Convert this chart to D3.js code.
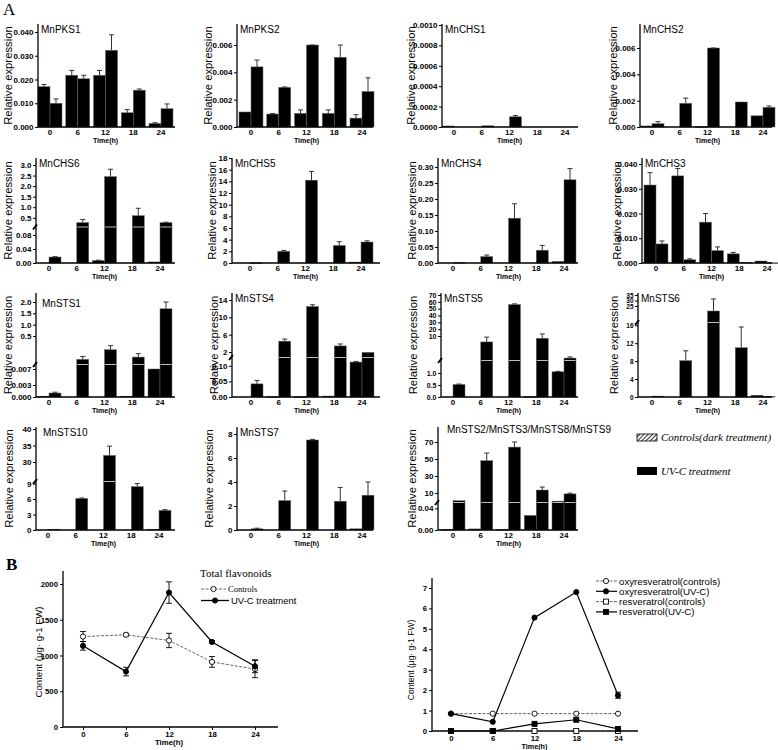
<!DOCTYPE html>
<html><head><meta charset="utf-8">
<script src="https://cdn.jsdelivr.net/npm/d3@7"></script>
<style>body{margin:0;background:#fff}svg{display:block}</style>
</head><body>
<svg id="c" width="778" height="750"></svg>
<script>
// ---------------- DATA ----------------
const times = [0, 6, 12, 18, 24];

const MnPKS1_control = [0.0170, 0.0218, 0.0218, 0.0060, 0.0015];
const MnPKS1_controlSD = [0.0009, 0.0020, 0.0020, 0.0013, 0.0003];
const MnPKS1_uvc = [0.0100, 0.0203, 0.0323, 0.0155, 0.0077];
const MnPKS1_uvcSD = [0.0018, 0.0015, 0.0065, 0.0005, 0.0020];
const MnPKS1_ticks = [0, 0.01, 0.02, 0.03, 0.04];
const MnPKS1_tickLabels = ["0.000", "0.010", "0.020", "0.030", "0.040"];

const MnPKS2_control = [0.0011, 0.00095, 0.0010, 0.0010, 0.00065];
const MnPKS2_controlSD = [0, 0.00003, 0.00025, 0.00025, 0.00025];
const MnPKS2_uvc = [0.0044, 0.0029, 0.0061, 0.0051, 0.0026];
const MnPKS2_uvcSD = [0.0005, 0.00003, 0.0005, 0.0010, 0.0010];
const MnPKS2_ticks = [0, 0.002, 0.004, 0.006];
const MnPKS2_tickLabels = ["0.000", "0.002", "0.004", "0.006"];

const MnCHS1_control = [0.00001, 0, 0, 0, 0];
const MnCHS1_controlSD = [0, 0, 0, 0, 0];
const MnCHS1_uvc = [0, 0.000012, 0.0001, 0, 0];
const MnCHS1_uvcSD = [0, 0, 0.000012, 0, 0];
const MnCHS1_ticks = [0, 0.0002, 0.0004, 0.0006, 0.0008, 0.0010];
const MnCHS1_tickLabels = ["0.0000", "0.0002", "0.0004", "0.0006", "0.0008", "0.0010"];

const MnCHS2_control = [0.00008, 0, 0.00003, 0, 0.00085];
const MnCHS2_controlSD = [0, 0, 0, 0, 0];
const MnCHS2_uvc = [0.00025, 0.0018, 0.0064, 0.0019, 0.0015];
const MnCHS2_uvcSD = [0.00015, 0.0004, 0.0004, 0, 0.0001];
const MnCHS2_ticks = [0, 0.002, 0.004, 0.006];
const MnCHS2_tickLabels = ["0.000", "0.002", "0.004", "0.006"];

const MnCHS6_control = [0, 0, 0.007, 0, 0.003];
const MnCHS6_controlSD = [0, 0, 0.001, 0, 0];
const MnCHS6_uvc = [0.017, 0.27, 2.45, 0.6, 0.27];
const MnCHS6_uvcSD = [0.001, 0.15, 0.35, 0.35, 0.02];
const MnCHS6_ticks = [0, 0.04, 0.08, 0.5, 1, 1.5, 2, 2.5, 3];
const MnCHS6_tickLabels = ["0.00", "0.04", "0.08", "0.5", "1.0", "1.5", "2.0", "2.5", "3.0"];

const MnCHS5_control = [0, 0, 0, 0, 0.15];
const MnCHS5_controlSD = [0, 0, 0, 0, 0];
const MnCHS5_uvc = [0.05, 2.0, 14.2, 3.0, 3.6];
const MnCHS5_uvcSD = [0, 0.15, 1.5, 0.65, 0.2];
const MnCHS5_ticks = [0, 2, 4, 6, 8, 10, 12, 14, 16, 18];
const MnCHS5_tickLabels = ["0", "2", "4", "6", "8", "10", "12", "14", "16", "18"];

const MnCHS4_control = [0, 0, 0, 0, 0.005];
const MnCHS4_controlSD = [0, 0, 0, 0, 0];
const MnCHS4_uvc = [0.002, 0.02, 0.14, 0.04, 0.26];
const MnCHS4_uvcSD = [0, 0.005, 0.045, 0.015, 0.035];
const MnCHS4_ticks = [0, 0.05, 0.10, 0.15, 0.20, 0.25, 0.30];
const MnCHS4_tickLabels = ["0.00", "0.05", "0.10", "0.15", "0.20", "0.25", "0.30"];

const MnCHS3_control = [0.0315, 0.0352, 0.0165, 0.0037, 0.0008];
const MnCHS3_controlSD = [0.005, 0.003, 0.0035, 0.0006, 0];
const MnCHS3_uvc = [0.0077, 0.0013, 0.005, 0.0003, 0.0001];
const MnCHS3_uvcSD = [0.0012, 0.0004, 0.0015, 0, 0];
const MnCHS3_ticks = [0, 0.01, 0.02, 0.03, 0.04];
const MnCHS3_tickLabels = ["0.000", "0.010", "0.020", "0.030", "0.040"];

const MnSTS1_control = [0.0002, 0, 0, 0.0002, 0.007];
const MnSTS1_controlSD = [0, 0, 0, 0, 0];
const MnSTS1_uvc = [0.001, 0.09, 0.26, 0.13, 1.7];
const MnSTS1_uvcSD = [0.0002, 0.05, 0.07, 0.06, 0.3];
const MnSTS1_ticks = [0, 0.003, 0.007, 0.5, 1.0, 1.5, 2.0];
const MnSTS1_tickLabels = ["0.000", "0.003", "0.007", "0.5", "1.0", "1.5", "2.0"];

const MnSTS4_control = [0, 0.001, 0.001, 0.003, 0.112];
const MnSTS4_controlSD = [0, 0, 0, 0, 0.002];
const MnSTS4_uvc = [0.042, 4.5, 12.5, 3.4, 1.85];
const MnSTS4_uvcSD = [0.011, 0.5, 0.4, 0.45, 0];
const MnSTS4_ticks = [0, 0.05, 0.10, 2, 6, 10, 14];
const MnSTS4_tickLabels = ["0.00", "0.05", "0.10", "2", "6", "10", "14"];

const MnSTS5_control = [0, 0, 0, 0.02, 1.05];
const MnSTS5_controlSD = [0, 0, 0, 0, 0.02];
const MnSTS5_uvc = [0.52, 7.9, 56, 9.2, 2.2];
const MnSTS5_uvcSD = [0.02, 1.7, 1, 3.8, 0.4];
const MnSTS5_ticks = [0, 0.5, 1.0, 10, 20, 30, 40, 50, 60, 70];
const MnSTS5_tickLabels = ["0.0", "0.5", "1.0", "10", "20", "30", "40", "50", "60", "70"];

const MnSTS6_control = [0, 0, 0, 0, 0.4];
const MnSTS6_controlSD = [0, 0, 0, 0, 0];
const MnSTS6_uvc = [0.2, 8.1, 22.5, 11, 0.15];
const MnSTS6_uvcSD = [0, 2.2, 8.9, 4.6, 0];
const MnSTS6_ticks = [0, 4, 8, 12, 16, 25, 30, 35];
const MnSTS6_tickLabels = ["0", "4", "8", "12", "16", "25", "30", "35"];

const MnSTS10_control = [0, 0, 0, 0, 0.15];
const MnSTS10_controlSD = [0, 0, 0, 0, 0];
const MnSTS10_uvc = [0.15, 6.1, 32, 8.4, 3.8];
const MnSTS10_uvcSD = [0, 0.1, 2.8, 0.6, 0.15];
const MnSTS10_ticks = [0, 3, 6, 9, 30, 35, 40];
const MnSTS10_tickLabels = ["0", "3", "6", "9", "30", "35", "40"];

const MnSTS7_control = [0, 0, 0, 0, 0.1];
const MnSTS7_controlSD = [0, 0, 0, 0, 0];
const MnSTS7_uvc = [0.1, 2.45, 7.5, 2.4, 2.9];
const MnSTS7_uvcSD = [0.05, 0.8, 0.05, 1.15, 1.1];
const MnSTS7_ticks = [0, 2, 4, 6, 8];
const MnSTS7_tickLabels = ["0", "2", "4", "6", "8"];

const MnSTS2389_control = [0.001, 0.002, 0.001, 0.027, 1];
const MnSTS2389_controlSD = [0, 0, 0, 0, 0];
const MnSTS2389_uvc = [1.5, 48, 64, 13.5, 9];
const MnSTS2389_uvcSD = [0, 9, 12, 3.5, 0.8];
const MnSTS2389_ticks = [0, 0.04, 10, 30, 50, 70];
const MnSTS2389_tickLabels = ["0.00", "0.04", "10", "30", "50", "70"];

// Panel B
const flavonoids_control = [1265, 1290, 1210, 910, 810];
const flavonoids_controlSD = [70, 20, 100, 75, 120];
const flavonoids_uvc = [1135, 775, 1880, 1190, 850];
const flavonoids_uvcSD = [60, 60, 150, 20, 90];
const flavonoids_ticks = [0, 500, 1000, 1500, 2000];

const oxyresveratrol_control = [0.85, 0.85, 0.85, 0.85, 0.85];
const oxyresveratrol_uvc = [0.85, 0.45, 5.55, 6.8, 1.75];
const oxyresveratrol_uvcSD = [0, 0, 0, 0, 0.15];
const resveratrol_control = [0, 0, 0, 0, 0];
const resveratrol_uvc = [0, 0, 0.35, 0.55, 0.1];
const stilbene_ticks = [0, 1, 2, 3, 4, 5, 6, 7];

// ---------------- LAYOUT ----------------
const svg = d3.select("#c");
const FONT = "'Liberation Sans', Arial, Helvetica, sans-serif";
const SERIF = "'Liberation Serif', 'Times New Roman', serif";
const rowBottom = [127, 263, 397, 530];
const rowTop = [24, 158, 293, 427];

const defs = svg.append("defs");
const pat = defs.append("pattern").attr("id", "hatch").attr("patternUnits", "userSpaceOnUse")
  .attr("width", 3).attr("height", 3).attr("patternTransform", "rotate(45)");
pat.append("rect").attr("width", 3).attr("height", 3).attr("fill", "#fff");
pat.append("line").attr("x1", 0).attr("y1", 0).attr("x2", 0).attr("y2", 3).attr("stroke", "#000").attr("stroke-width", 1.6);

const panels = [
  {name: "MnPKS1", c: MnPKS1_control, cs: MnPKS1_controlSD, u: MnPKS1_uvc, us: MnPKS1_uvcSD, ticks: MnPKS1_ticks, labels: MnPKS1_tickLabels,
   dom: [0, 0.04], off: [0, 95], row: 0, x0: 38, gx: 50, x1: 175, ylx: -30},
  {name: "MnPKS2", c: MnPKS2_control, cs: MnPKS2_controlSD, u: MnPKS2_uvc, us: MnPKS2_uvcSD, ticks: MnPKS2_ticks, labels: MnPKS2_tickLabels,
   dom: [0, 0.006], off: [0, 82], row: 0, x0: 237, gx: 251, x1: 373, ylx: -29},
  {name: "MnCHS1", c: MnCHS1_control, cs: MnCHS1_controlSD, u: MnCHS1_uvc, us: MnCHS1_uvcSD, ticks: MnCHS1_ticks, labels: MnCHS1_tickLabels,
   dom: [0, 0.001], off: [0, 102], row: 0, x0: 442, gx: 454, x1: 578, ylx: -31},
  {name: "MnCHS2", c: MnCHS2_control, cs: MnCHS2_controlSD, u: MnCHS2_uvc, us: MnCHS2_uvcSD, ticks: MnCHS2_ticks, labels: MnCHS2_tickLabels,
   dom: [0, 0.006], off: [0, 79], row: 0, x0: 640, gx: 652, x1: 772, ylx: -27},

  {name: "MnCHS6", c: MnCHS6_control, cs: MnCHS6_controlSD, u: MnCHS6_uvc, us: MnCHS6_uvcSD, ticks: MnCHS6_ticks, labels: MnCHS6_tickLabels,
   dom: [0, 0.1, 0.11, 3.0], off: [0, 35, 37, 98], row: 1, x0: 36, gx: 49, x1: 175, ylx: -28},
  {name: "MnCHS5", c: MnCHS5_control, cs: MnCHS5_controlSD, u: MnCHS5_uvc, us: MnCHS5_uvcSD, ticks: MnCHS5_ticks, labels: MnCHS5_tickLabels,
   dom: [0, 18], off: [0, 105], row: 1, x0: 232, gx: 250, x1: 380, ylx: -20},
  {name: "MnCHS4", c: MnCHS4_control, cs: MnCHS4_controlSD, u: MnCHS4_uvc, us: MnCHS4_uvcSD, ticks: MnCHS4_ticks, labels: MnCHS4_tickLabels,
   dom: [0, 0.30], off: [0, 96], row: 1, x0: 438, gx: 453, x1: 578, ylx: -26},
  {name: "MnCHS3", c: MnCHS3_control, cs: MnCHS3_controlSD, u: MnCHS3_uvc, us: MnCHS3_uvcSD, ticks: MnCHS3_ticks, labels: MnCHS3_tickLabels,
   dom: [0, 0.04], off: [0, 99], row: 1, x0: 642, gx: 656, x1: 772, ylx: -25},

  {name: "MnSTS1", c: MnSTS1_control, cs: MnSTS1_controlSD, u: MnSTS1_uvc, us: MnSTS1_uvcSD, ticks: MnSTS1_ticks, labels: MnSTS1_tickLabels,
   dom: [0, 0.008, 0.0081, 0.5, 2.0], off: [0, 32, 33, 61, 95], row: 2, x0: 36, gx: 49, x1: 175, ylx: -28, tdx: 6, tdy: 14},
  {name: "MnSTS4", c: MnSTS4_control, cs: MnSTS4_controlSD, u: MnSTS4_uvc, us: MnSTS4_uvcSD, ticks: MnSTS4_ticks, labels: MnSTS4_tickLabels,
   dom: [0, 0.125, 0.126, 2, 14], off: [0, 39, 40, 45, 97], row: 2, x0: 232, gx: 251, x1: 380, ylx: -18},
  {name: "MnSTS5", c: MnSTS5_control, cs: MnSTS5_controlSD, u: MnSTS5_uvc, us: MnSTS5_uvcSD, ticks: MnSTS5_ticks, labels: MnSTS5_tickLabels,
   dom: [0, 1.5, 1.51, 10, 70], off: [0, 36, 37, 61, 102], row: 2, x0: 441, gx: 453, x1: 578, ylx: -28, tfs: 7},
  {name: "MnSTS6", c: MnSTS6_control, cs: MnSTS6_controlSD, u: MnSTS6_uvc, us: MnSTS6_uvcSD, ticks: MnSTS6_ticks, labels: MnSTS6_tickLabels,
   dom: [0, 16.5, 17, 25, 35], off: [0, 74, 75, 91, 102], row: 2, x0: 638, gx: 652, x1: 772, ylx: -24, tfs: 6.5},

  {name: "MnSTS10", c: MnSTS10_control, cs: MnSTS10_controlSD, u: MnSTS10_uvc, us: MnSTS10_uvcSD, ticks: MnSTS10_ticks, labels: MnSTS10_tickLabels,
   dom: [0, 9.3, 9.4, 30, 40], off: [0, 48, 49, 68, 101], row: 3, x0: 36, gx: 48, x1: 175, ylx: -27, tdx: 7},
  {name: "MnSTS7", c: MnSTS7_control, cs: MnSTS7_controlSD, u: MnSTS7_uvc, us: MnSTS7_uvcSD, ticks: MnSTS7_ticks, labels: MnSTS7_tickLabels,
   dom: [0, 8], off: [0, 96], row: 3, x0: 237, gx: 251, x1: 373, ylx: -28},
  {name: "MnSTS2/MnSTS3/MnSTS8/MnSTS9", c: MnSTS2389_control, cs: MnSTS2389_controlSD, u: MnSTS2389_uvc, us: MnSTS2389_uvcSD, ticks: MnSTS2389_ticks, labels: MnSTS2389_tickLabels,
   dom: [0, 0.05, 0.051, 10, 70], off: [0, 27, 28, 37, 88], row: 3, x0: 438, gx: 453, x1: 578, ylx: -26, tdx: 9, tdy: 6},
];

function barPanel(p) {
  const b = rowBottom[p.row], t = rowTop[p.row];
  const g = svg.append("g");
  const xs = d3.scalePoint().domain(times).range([p.gx, p.gx + 111]);
  const y = d3.scaleLinear().domain(p.dom).range(p.off.map(o => b - o)).clamp(true);
  const bw = 12;
  const broken = p.dom.length > 2;
  const yb = broken ? (y(p.dom[1]) + y(p.dom[2])) / 2 : null;
  const series = [{v: p.c, sd: p.cs, dx: -bw}, {v: p.u, sd: p.us, dx: 0}];
  series.forEach(s => {
    const data = times.map((tm, i) => ({t: tm, v: s.v[i], sd: s.sd[i]}));
    g.selectAll(null).data(data.filter(d => d.v > 0)).join("rect")
      .attr("x", d => xs(d.t) + s.dx).attr("y", d => y(d.v))
      .attr("width", bw).attr("height", d => Math.max(0.8, b - y(d.v)))
      .attr("fill", "#000").attr("stroke", "#6a6a6a").attr("stroke-width", 0.5);
    if (broken) {
      g.selectAll(null).data(data.filter(d => y(d.v) < yb - 1)).join("line")
        .attr("x1", d => xs(d.t) + s.dx + 0.5).attr("x2", d => xs(d.t) + s.dx + bw - 0.5)
        .attr("y1", yb).attr("y2", yb).attr("stroke", "#bdbdbd").attr("stroke-width", 1);
    }
    const e = data.filter(d => d.sd > 0);
    g.selectAll(null).data(e).join("line")
      .attr("x1", d => xs(d.t) + s.dx + bw / 2).attr("x2", d => xs(d.t) + s.dx + bw / 2)
      .attr("y1", d => y(d.v)).attr("y2", d => y(d.v + d.sd))
      .attr("stroke", "#333").attr("stroke-width", 1);
    g.selectAll(null).data(e).join("line")
      .attr("x1", d => xs(d.t) + s.dx + bw / 2 - 2.5).attr("x2", d => xs(d.t) + s.dx + bw / 2 + 2.5)
      .attr("y1", d => y(d.v + d.sd)).attr("y2", d => y(d.v + d.sd))
      .attr("stroke", "#333").attr("stroke-width", 1);
  });
  if (broken) {
    g.append("line").attr("x1", p.x0 - 3).attr("x2", p.x0 + 1).attr("y1", yb + 2.5).attr("y2", yb - 2.5)
      .attr("stroke", "#000").attr("stroke-width", 2);
  }
  const ax = g.append("g").attr("transform", `translate(${p.x0},0)`)
    .call(d3.axisLeft(y).tickValues(p.ticks).tickFormat((d, i) => p.labels[i]).tickSize(3).tickPadding(1.5));
  ax.select(".domain").remove();
  ax.selectAll("text").attr("font-size", p.tfs || 8).attr("font-weight", "bold").attr("font-family", FONT).attr("fill", "#000");
  ax.selectAll("line").attr("stroke", "#000");
  g.append("line").attr("x1", p.x0).attr("x2", p.x0).attr("y1", t).attr("y2", b).attr("stroke", "#000").attr("stroke-width", 1.3);
  g.append("line").attr("x1", p.x0).attr("x2", p.x1).attr("y1", b).attr("y2", b).attr("stroke", "#000").attr("stroke-width", 1.3);
  g.selectAll(null).data(times).join("text")
    .attr("x", d => xs(d)).attr("y", b + 8).attr("text-anchor", "middle")
    .attr("font-size", 8).attr("font-weight", "bold").attr("font-family", FONT).text(d => d);
  g.append("text").attr("x", xs(12)).attr("y", b + 15.5).attr("text-anchor", "middle")
    .attr("font-size", 7).attr("font-weight", "bold").attr("font-family", FONT).text("Time(h)");
  g.append("text").attr("x", p.x0 + (p.tdx || 3)).attr("y", t + (p.tdy || 9))
    .attr("font-size", 10).attr("font-family", FONT).text(p.name);
  g.append("text").attr("transform", `translate(${p.x0 + p.ylx},${(t + b) / 2}) rotate(-90)`)
    .attr("text-anchor", "middle").attr("dominant-baseline", "central")
    .attr("font-size", 11.3).attr("font-family", FONT).text("Relative expression");
}

panels.forEach(barPanel);

svg.append("text").attr("x", 3).attr("y", 15).attr("font-size", 17).attr("font-family", SERIF).text("A");

// legend A
svg.append("rect").attr("x", 637).attr("y", 434).attr("width", 20).attr("height", 7)
  .attr("fill", "url(#hatch)").attr("stroke", "#000").attr("stroke-width", 0.8);
svg.append("text").attr("x", 661).attr("y", 441).attr("font-size", 11).attr("font-style", "italic")
  .attr("font-family", SERIF).text("Controls(dark treatment)");
svg.append("rect").attr("x", 637).attr("y", 467).attr("width", 20).attr("height", 8).attr("fill", "#000");
svg.append("text").attr("x", 661).attr("y", 475).attr("font-size", 11).attr("font-style", "italic")
  .attr("font-family", SERIF).text("UV-C treatment");

// ---------------- PANEL B ----------------
svg.append("text").attr("x", 6).attr("y", 570).attr("font-size", 17).attr("font-weight", "bold")
  .attr("font-family", SERIF).text("B");

function marker(g, x, y, shape, filled) {
  if (shape === "circle") {
    g.append("circle").attr("cx", x).attr("cy", y).attr("r", 2.6)
      .attr("fill", filled ? "#000" : "#fff").attr("stroke", "#000").attr("stroke-width", 0.9);
  } else {
    g.append("rect").attr("x", x - 2.5).attr("y", y - 2.5).attr("width", 5).attr("height", 5)
      .attr("fill", filled ? "#000" : "#fff").attr("stroke", "#000").attr("stroke-width", 0.9);
  }
}

function linePanel(cfg) {
  const g = svg.append("g");
  const x = d3.scaleLinear().domain([0, 24]).range([cfg.gx0, cfg.gx1]);
  const y = d3.scaleLinear().domain([0, cfg.ymax]).range([cfg.b, cfg.yTop]);
  const ax = g.append("g").attr("transform", `translate(${cfg.x0},0)`)
    .call(d3.axisLeft(y).tickValues(cfg.ticks).tickFormat(d3.format("d")).tickSize(3).tickPadding(2));
  ax.select(".domain").remove();
  ax.selectAll("text").attr("font-size", 7.8).attr("font-weight", "bold").attr("font-family", FONT);
  const axb = g.append("g").attr("transform", `translate(0,${cfg.b})`)
    .call(d3.axisBottom(x).tickValues(times).tickFormat(d3.format("d")).tickSize(3).tickPadding(1));
  axb.select(".domain").remove();
  axb.selectAll("text").attr("font-size", 7.8).attr("font-weight", "bold").attr("font-family", FONT);
  g.append("line").attr("x1", cfg.x0).attr("x2", cfg.x0).attr("y1", cfg.axTop).attr("y2", cfg.b).attr("stroke", "#000").attr("stroke-width", 1.3);
  g.append("line").attr("x1", cfg.x0).attr("x2", cfg.x1).attr("y1", cfg.b).attr("y2", cfg.b).attr("stroke", "#000").attr("stroke-width", 1.3);
  g.append("text").attr("x", (cfg.gx0 + cfg.gx1) / 2).attr("y", cfg.b + cfg.tdy).attr("text-anchor", "middle")
    .attr("font-size", cfg.tfs).attr("font-weight", "bold").attr("font-family", FONT).text("Time(h)");
  g.append("text").attr("transform", `translate(${cfg.ylabX},${cfg.ylabY}) rotate(-90)`)
    .attr("text-anchor", "middle").attr("dominant-baseline", "central")
    .attr("font-size", cfg.ylabSize).attr("font-family", FONT).text("Content (μg· g-1 FW)");
  cfg.series.forEach(s => {
    const pts = times.map((t, i) => [x(t), y(s.v[i])]);
    g.append("path").attr("d", d3.line()(pts)).attr("fill", "none")
      .attr("stroke", s.dashed ? "#555" : "#000").attr("stroke-width", s.dashed ? 0.9 : 1.2)
      .attr("stroke-dasharray", s.dashed ? "3,1.5" : null);
    if (s.sd) {
      times.forEach((t, i) => {
        if (s.sd[i] > 0) {
          const cx = x(t), y1 = y(s.v[i] - s.sd[i]), y2 = y(s.v[i] + s.sd[i]);
          g.append("line").attr("x1", cx).attr("x2", cx).attr("y1", y1).attr("y2", y2).attr("stroke", "#000").attr("stroke-width", 0.9);
          [y1, y2].forEach(yy => g.append("line").attr("x1", cx - 3).attr("x2", cx + 3).attr("y1", yy).attr("y2", yy).attr("stroke", "#000").attr("stroke-width", 0.9));
        }
      });
    }
    pts.forEach(p => marker(g, p[0], p[1], s.shape, s.filled));
  });
  return g;
}

linePanel({x0: 63, x1: 278, gx0: 83, gx1: 255, b: 727, yTop: 584, axTop: 571, ymax: 2000,
  ticks: flavonoids_ticks, ylabX: 38, ylabY: 652, ylabSize: 9.6, tdy: 18, tfs: 7.8,
  series: [
    {v: flavonoids_control, sd: flavonoids_controlSD, shape: "circle", filled: false, dashed: true},
    {v: flavonoids_uvc, sd: flavonoids_uvcSD, shape: "circle", filled: true, dashed: false}
  ]});
svg.append("text").attr("x", 200).attr("y", 577).attr("font-size", 11).attr("font-family", SERIF).text("Total flavonoids");
svg.append("line").attr("x1", 201).attr("x2", 226).attr("y1", 589).attr("y2", 589).attr("stroke", "#555").attr("stroke-width", 0.9).attr("stroke-dasharray", "3,1.5");
marker(svg, 213.5, 589, "circle", false);
svg.append("text").attr("x", 228).attr("y", 592).attr("font-size", 8.5).attr("font-family", SERIF).text("Controls");
svg.append("line").attr("x1", 201).attr("x2", 229).attr("y1", 600.5).attr("y2", 600.5).attr("stroke", "#000").attr("stroke-width", 1.3);
marker(svg, 215, 600.5, "circle", true);
svg.append("text").attr("x", 231).attr("y", 604).attr("font-size", 9.5).attr("font-family", FONT).text("UV-C treatment");

linePanel({x0: 432, x1: 638, gx0: 451, gx1: 618, b: 731, yTop: 588, axTop: 578, ymax: 7,
  ticks: stilbene_ticks, ylabX: 411, ylabY: 660, ylabSize: 8.5, tdy: 17.6, tfs: 7.2,
  series: [
    {v: resveratrol_control, shape: "square", filled: false, dashed: true},
    {v: oxyresveratrol_control, shape: "circle", filled: false, dashed: true},
    {v: resveratrol_uvc, shape: "square", filled: true, dashed: false},
    {v: oxyresveratrol_uvc, sd: oxyresveratrol_uvcSD, shape: "circle", filled: true, dashed: false}
  ]});
const legR = [
  {label: "oxyresveratrol(controls)", shape: "circle", filled: false, dashed: true},
  {label: "oxyresveratrol(UV-C)", shape: "circle", filled: true, dashed: false},
  {label: "resveratrol(controls)", shape: "square", filled: false, dashed: true},
  {label: "resveratrol(UV-C)", shape: "square", filled: true, dashed: false}
];
legR.forEach((l, i) => {
  const yy = 581 + i * 10.3;
  svg.append("line").attr("x1", 596).attr("x2", 617).attr("y1", yy).attr("y2", yy)
    .attr("stroke", l.dashed ? "#555" : "#000").attr("stroke-width", l.dashed ? 0.9 : 1.2)
    .attr("stroke-dasharray", l.dashed ? "3,1.5" : null);
  marker(svg, 606, yy, l.shape, l.filled);
  svg.append("text").attr("x", 619).attr("y", yy + 3.5).attr("font-size", 9.7).attr("font-family", FONT).text(l.label);
});
</script>
</body></html>
